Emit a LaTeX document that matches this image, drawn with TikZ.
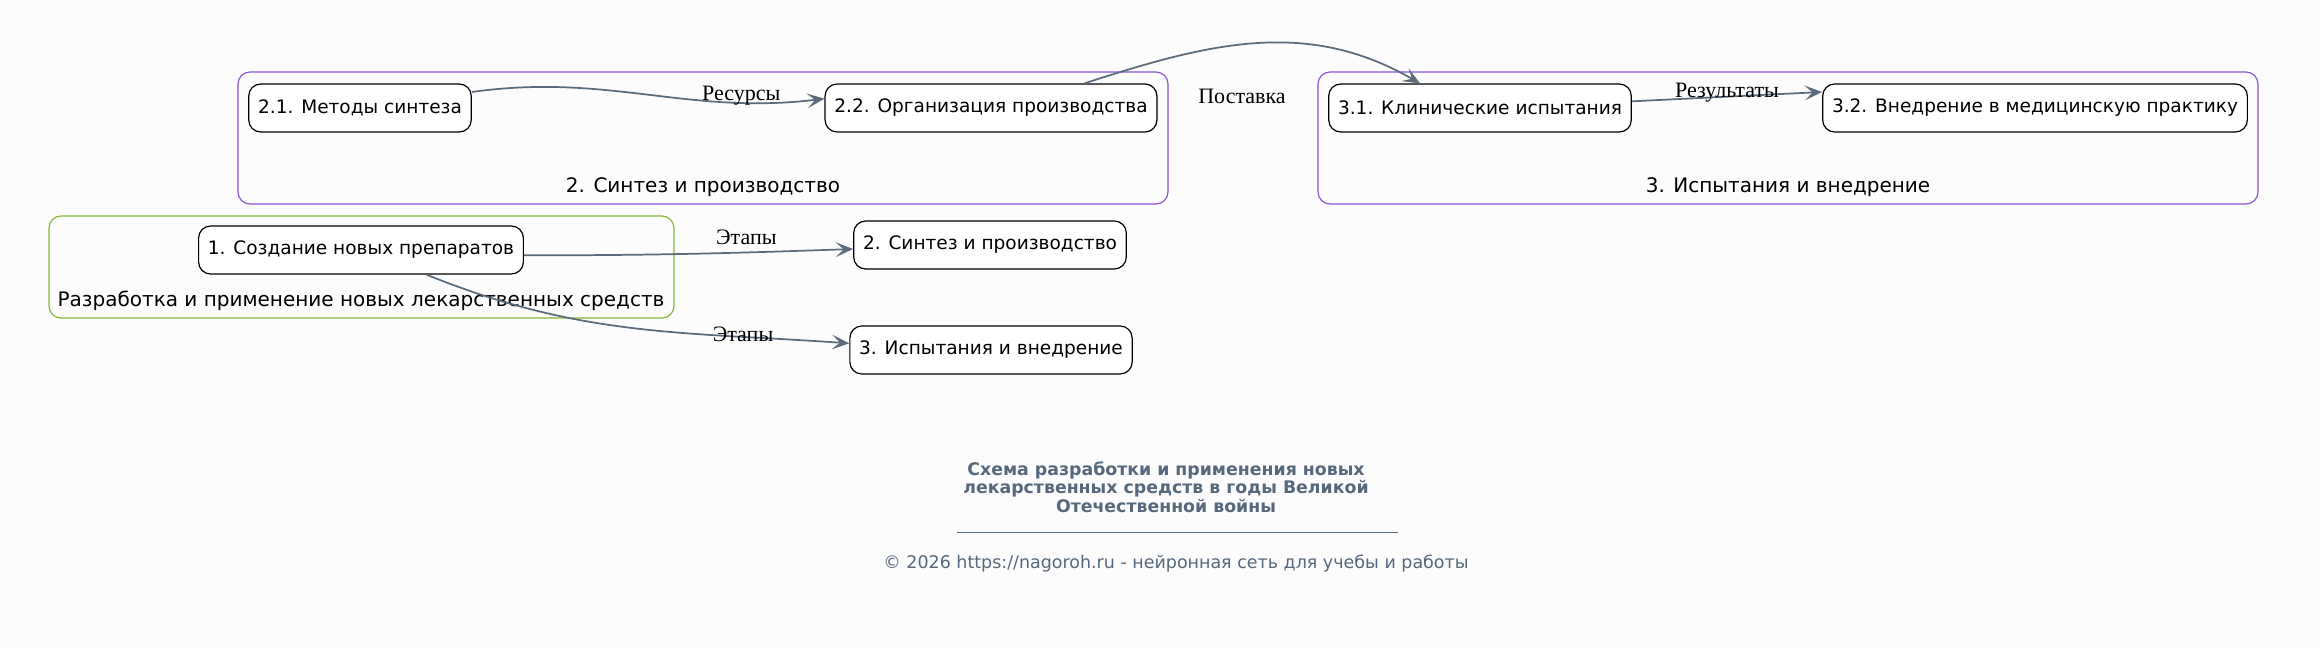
\documentclass[tikz,border=0pt]{standalone}
\usepackage{fontspec}
\setmainfont{DejaVu Sans}
\newfontfamily\lblfont{Liberation Serif}
\usetikzlibrary{arrows.meta}

\definecolor{bgpaper}{HTML}{FCFCFC}
\definecolor{edgeslate}{HTML}{5B6B7B}
\definecolor{grpviolet}{HTML}{8A55D2}
\definecolor{grpgreen}{HTML}{86B935}
\definecolor{titleslate}{HTML}{56687B}

\tikzset{
  stage/.style={draw, line width=0.9pt, rounded corners=9pt, fill=white,
    minimum height=36pt, inner xsep=7pt,
    font=\fontsize{13.9}{16}\selectfont},
  grp/.style={line width=0.9pt, rounded corners=9pt},
  grplbl/.style={font=\fontsize{15}{17}\selectfont},
  flow/.style={draw=edgeslate, line width=1.3pt,
    -{Stealth[length=13pt,width=11pt,inset=6pt]}},
  flowlbl/.style={font=\lblfont\fontsize{16.5}{18}\selectfont, inner sep=1pt}
}

\begin{document}
\begin{tikzpicture}[x=0.75pt,y=-0.75pt]
    \fill[bgpaper] (0,0) rectangle (2319,649);
    \useasboundingbox (0,0) rectangle (2319,649);

    % groups
    \draw[grp, grpviolet] (238,72) rectangle (1168,204);
    \node[grplbl] (g2lbl) at (703,187) {2. Синтез и производство};
    \draw[grp, grpviolet] (1318,72) rectangle (2258,204);
    \node[grplbl] (g3lbl) at (1788,187) {3. Испытания и внедрение};
    \draw[grp, grpgreen] (49,216) rectangle (674,318);
    \node[grplbl] (g1lbl) at (361,301) {Разработка и применение новых лекарственных средств};

    % stages
    \node[stage] (s21) at (360,108) {2.1. Методы синтеза};
    \node[stage] (s22) at (991,108) {2.2. Организация производства};
    \node[stage] (s31) at (1480,108) {3.1. Клинические испытания};
    \node[stage] (s32) at (2035,108) {3.2. Внедрение в медицинскую практику};
    \node[stage] (s1) at (361,250) {1. Создание новых препаратов};
    \node[stage] (s2) at (990,245) {2. Синтез и производство};
    \node[stage] (s3) at (991,350) {3. Испытания и внедрение};

    % links
    \draw[flow] ([yshift=12pt]s21.east) to[out=8, in=187]
        node[flowlbl, pos=0.78, above=-4pt] {Ресурсы} ([yshift=7pt]s22.west);
    \draw[flow] ([xshift=70pt]s22.north) to[out=18, in=150] ([xshift=-45pt]s31.north);
    \node[flowlbl] (supply) at (1242,96) {Поставка};
    \draw[flow] ([yshift=5pt]s31.east) -- node[flowlbl, pos=0.5, above=-6pt] {Результаты}
        ([yshift=12pt]s32.west);
    \draw[flow] ([yshift=-4pt]s1.east) to[out=0, in=182]
        node[flowlbl, pos=0.69, above=4pt] {Этапы} ([yshift=-3pt]s2.west);
    \draw[flow] ([xshift=49pt]s1.south) to[out=-22, in=176]
        node[flowlbl, pos=0.77, below=-9pt] {Этапы} ([yshift=5pt]s3.west);

    % caption
    \node[font=\bfseries\fontsize{13}{14}\selectfont, text=titleslate, align=center]
        (title) at (1166,487) {Схема разработки и применения новых\\
        лекарственных средств в годы Великой\\Отечественной войны};
    \draw[titleslate, line width=0.6pt] (957,532) -- (1398,532);
    \node[font=\fontsize{13.1}{15}\selectfont, text=titleslate]
        (credit) at (1176,564) {© 2026 https://nagoroh.ru - нейронная сеть для учебы и работы};
\end{tikzpicture}
\end{document}
